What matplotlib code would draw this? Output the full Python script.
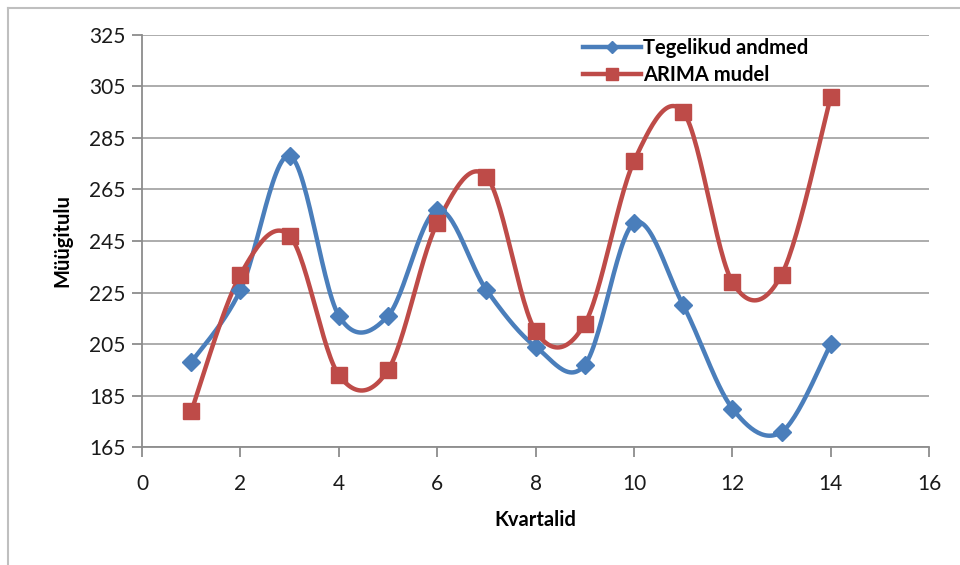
from matplotlib import pyplot as plt
from matplotlib.lines import Line2D
import numpy as np

kvartalid = [1, 2, 3, 4, 5, 6, 7, 8, 9, 10, 11, 12, 13, 14]
tegelikud = [198, 226, 278, 216, 216, 257, 226, 204, 197, 252, 220, 180, 171, 205]
arima = [179, 232, 247, 193, 195, 252, 270, 210, 213, 276, 295, 229, 232, 301]

sinine = '#4A7EBB'
punane = '#BE4B48'
font = ['Lato', 'DejaVu Sans']


def silu(x, y, n=30):
    # Excel-laadne silutud joon (Bezier, Catmull-Rom kontrollpunktid)
    x = np.asarray(x, float)
    y = np.asarray(y, float)
    px = np.concatenate([[x[0]], x, [x[-1]]])
    py = np.concatenate([[y[0]], y, [y[-1]]])
    xs, ys = [], []
    t = np.linspace(0, 1, n)
    for i in range(1, len(px) - 2):
        x0, y0 = px[i], py[i]
        x3, y3 = px[i + 1], py[i + 1]
        x1 = x0 + (px[i + 1] - px[i - 1]) / 6
        y1 = y0 + (py[i + 1] - py[i - 1]) / 6
        x2 = x3 - (px[i + 2] - px[i]) / 6
        y2 = y3 - (py[i + 2] - py[i]) / 6
        b0 = (1 - t) ** 3
        b1 = 3 * (1 - t) ** 2 * t
        b2 = 3 * (1 - t) * t ** 2
        b3 = t ** 3
        xs.extend(b0 * x0 + b1 * x1 + b2 * x2 + b3 * x3)
        ys.extend(b0 * y0 + b1 * y1 + b2 * y2 + b3 * y3)
    return xs, ys


fig = plt.figure(figsize=(9.6, 5.65), dpi=100)
ax = fig.add_axes([0.148, 0.2083, 0.82, 0.7303])

for andmed, varv, marker, ms in [(tegelikud, sinine, 'D', 9.5), (arima, punane, 's', 12)]:
    sx, sy = silu(kvartalid, andmed)
    ax.plot(sx, sy, color=varv, lw=3.2, solid_capstyle='round', zorder=3)
    ax.plot(kvartalid, andmed, linestyle='none', marker=marker, ms=ms,
            color=varv, zorder=4)

ax.set_xlim(0, 16)
ax.set_ylim(165, 325)
ax.set_xticks(range(0, 17, 2))
ax.set_yticks(range(165, 326, 20))
ax.yaxis.grid(True, color='#A6A6A6', lw=1.3)
ax.set_axisbelow(True)
for s in ['top', 'right']:
    ax.spines[s].set_visible(False)
for s in ['left', 'bottom']:
    ax.spines[s].set_color('#8C8C8C')
    ax.spines[s].set_linewidth(1.3)
ax.tick_params(direction='out', length=7, width=1.3, color='#8C8C8C',
               labelsize=15, labelcolor='#1A1A1A', pad=5)
for lab in ax.get_xticklabels() + ax.get_yticklabels():
    lab.set_family(font)
ax.tick_params(axis='x', pad=12)

ax.set_xlabel('Kvartalid', family=font, fontsize=14.5, fontweight='bold', labelpad=12)
ax.set_ylabel('Müügitulu', family=font, fontsize=14.5, fontweight='bold', labelpad=12)

kasitlus = [Line2D([0], [0], color=sinine, lw=3.2, marker='D', ms=6),
            Line2D([0], [0], color=punane, lw=3.2, marker='s', ms=8)]
ax.legend(kasitlus, ['Tegelikud andmed', 'ARIMA mudel'], loc='upper left',
          bbox_to_anchor=(0.537, 1.035), frameon=False, handlelength=2.9,
          handletextpad=0.1, labelspacing=0.35,
          prop={'family': font, 'size': 14.5, 'weight': 'bold'})

# raam
fig.add_artist(Line2D([8 / 960, 8 / 960], [0, 1 - 7.5 / 565], color='#BFBFBF', lw=1.5))
fig.add_artist(Line2D([8 / 960, 1], [1 - 7.5 / 565, 1 - 7.5 / 565], color='#BFBFBF', lw=1.5))

fig.savefig('out.png', dpi=100)
